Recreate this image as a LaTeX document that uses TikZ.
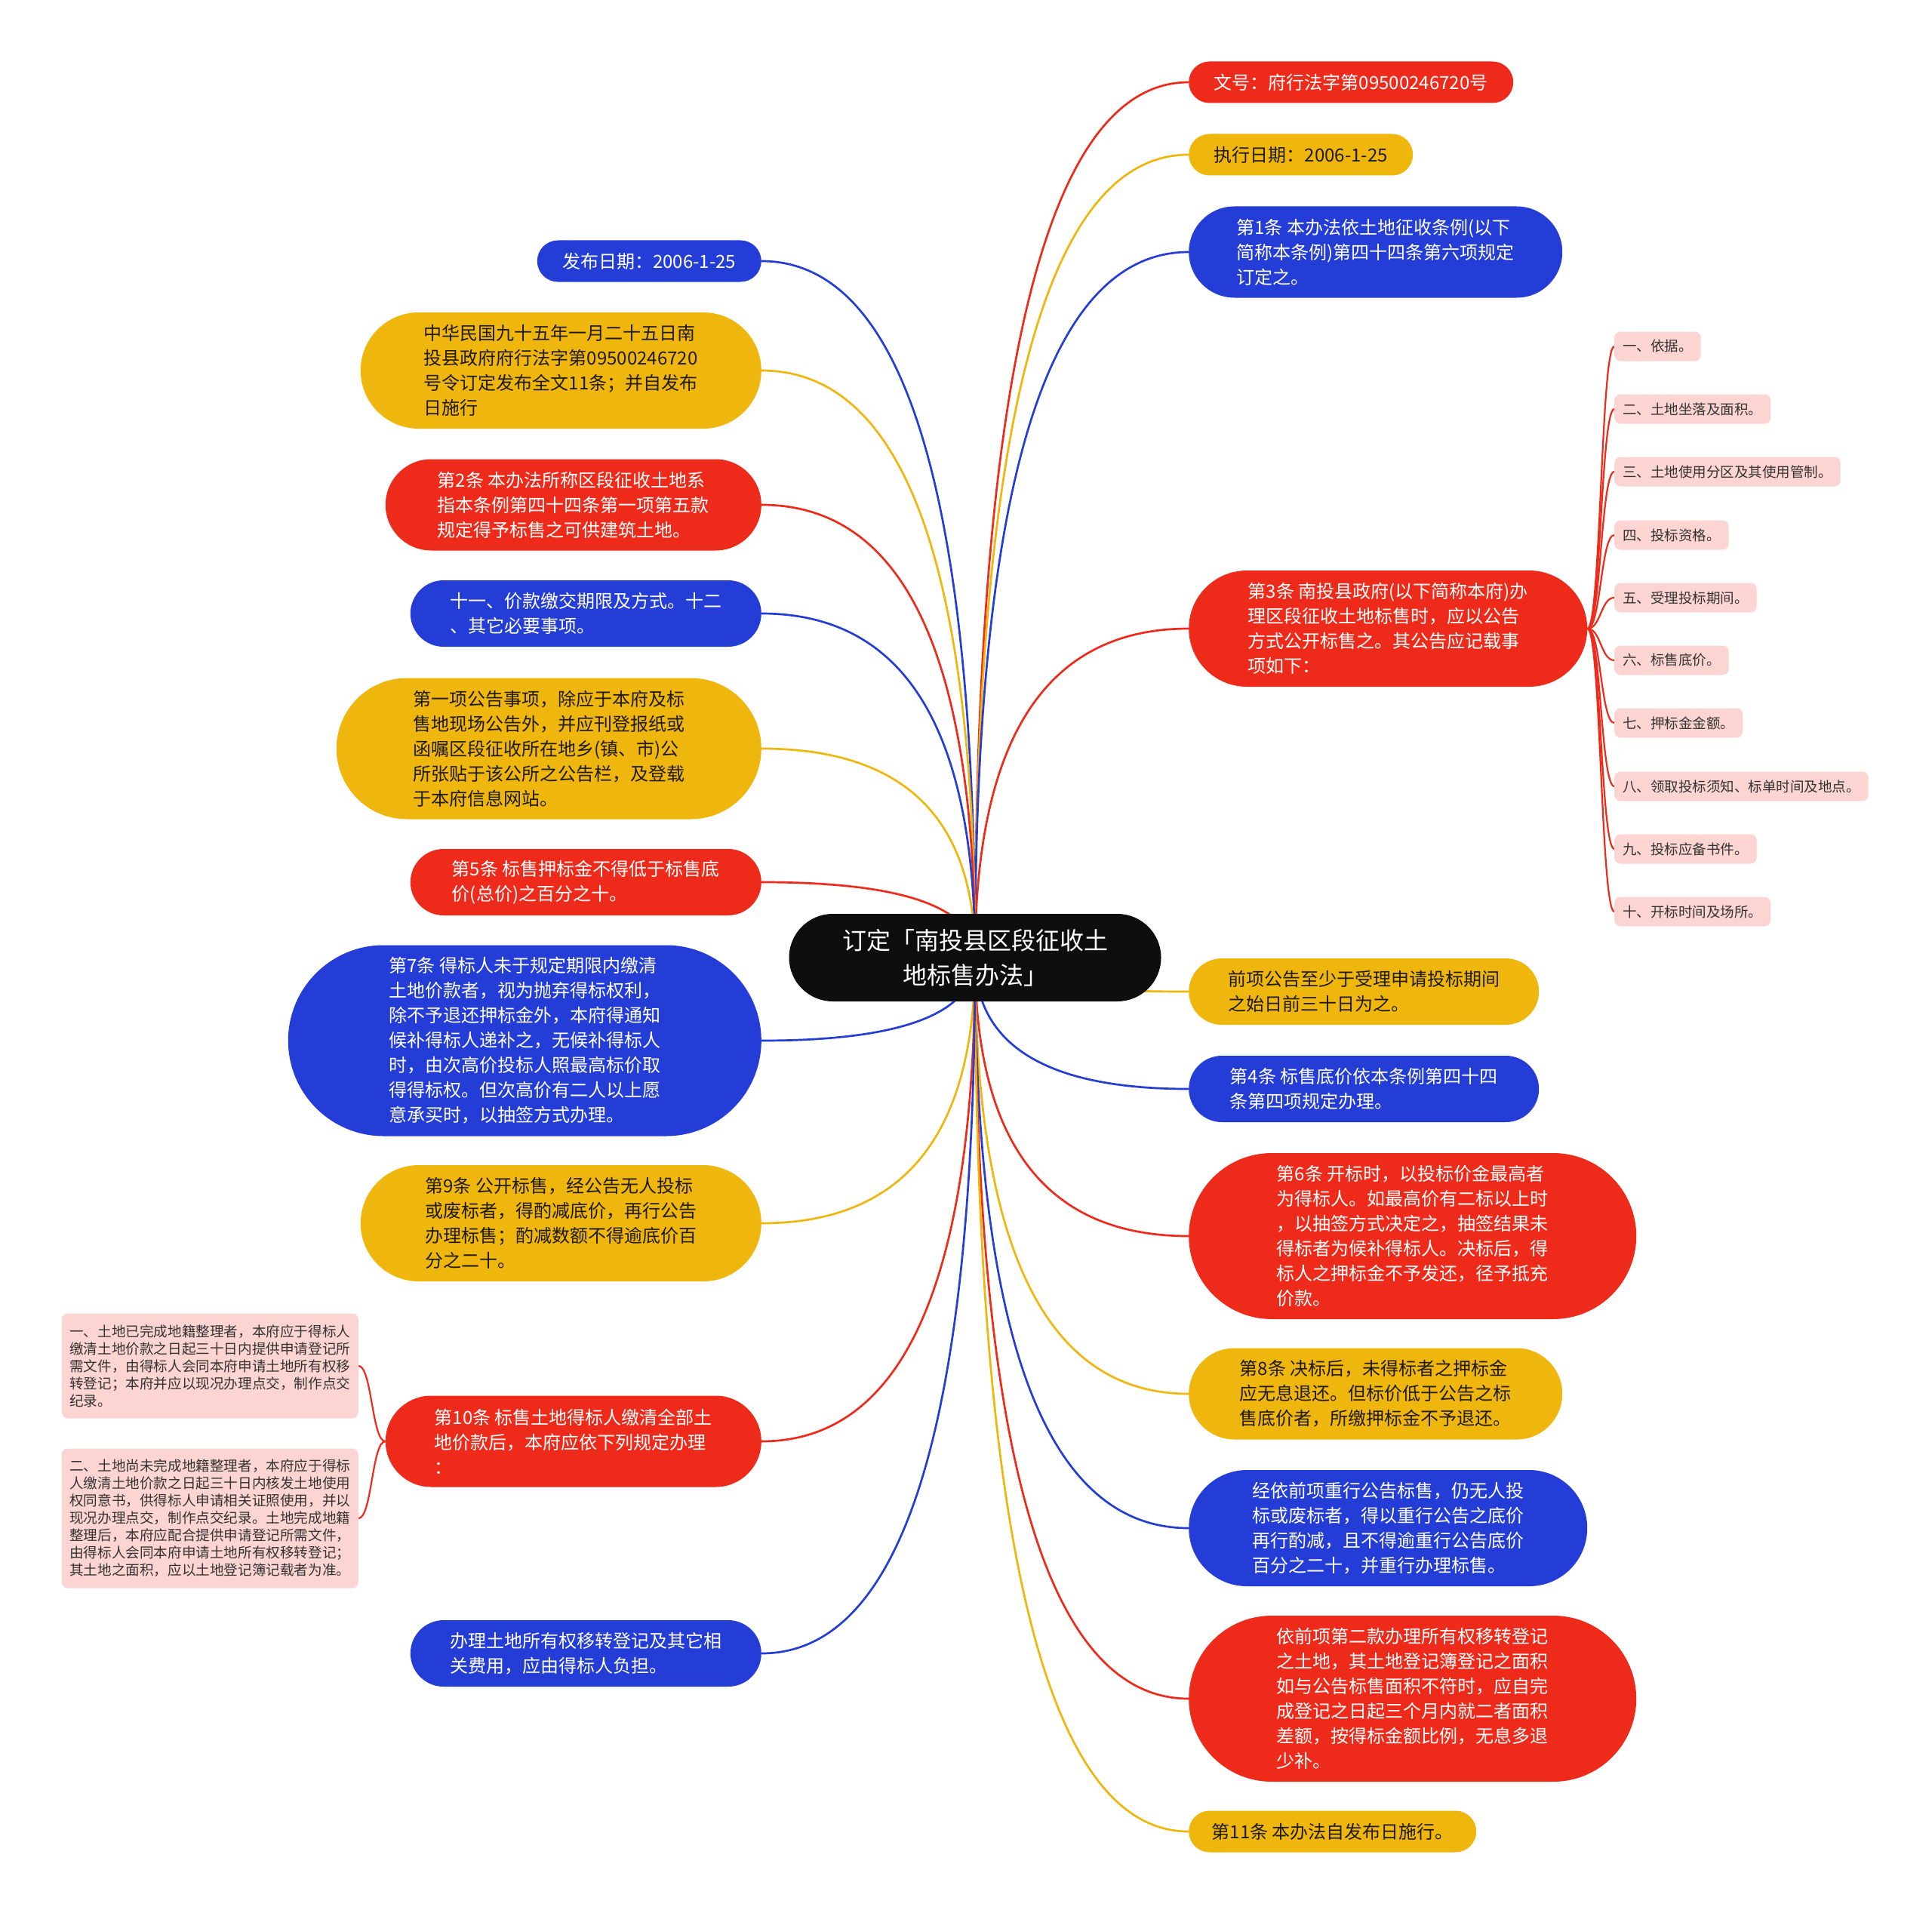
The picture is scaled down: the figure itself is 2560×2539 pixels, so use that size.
\documentclass[tikz,border=0pt]{standalone}
\usepackage{fontspec}
\setmainfont{Noto Sans CJK SC}
\usetikzlibrary{calc}
\definecolor{cred}{HTML}{EE2B1B}
\definecolor{cblue}{HTML}{243DD6}
\definecolor{cyel}{HTML}{EFB70E}
\definecolor{cpink}{HTML}{FCD5D2}
\definecolor{croot}{HTML}{0E0E0E}
\definecolor{cdark}{HTML}{1F1A0A}
\definecolor{cgray}{HTML}{333333}
\pgfdeclarelayer{back}\pgfdeclarelayer{bg}\pgfsetlayers{back,bg,main}
\tikzset{
  x=1pt,y=-1pt,
  box/.style={inner sep=0pt, align=left, font=\fontsize{24}{33}\selectfont},
  pill/.style 2 args={minimum width=#1, minimum height=#2, rounded corners=#2/2},
  rbox/.style={box, fill=cred, text=white},
  bbox/.style={box, fill=cblue, text=white},
  ybox/.style={box, fill=cyel, text=cdark},
  sitem/.style={inner xsep=11pt, inner ysep=0pt, minimum height=39, rounded corners=8, fill=cpink, text=cgray, font=\fontsize{18.5}{24}\selectfont, anchor=west},
  litem/.style={inner sep=0pt, minimum width=393, rounded corners=8, fill=cpink, text=cgray, align=left, font=\fontsize{18.6}{23}\selectfont, anchor=east},
  edge/.style={line width=2.7pt},
  subedge/.style={line width=2.2pt, draw=cred},
}
\newcommand\mmedge[2]{\draw[edge,draw=#1] (root.center) .. controls ($(root.center)!0.667!(root.center |- #2)$) and ($(#2)!0.667!(root.center |- #2)$) .. (#2);}
\newcommand\mmsub[2]{\draw[subedge] (#1) .. controls ($(#1)!0.5!(#1 -| #2)$) and ($(#2)!0.5!(#2 -| #1)$) .. (#2);}
\begin{document}
\begin{tikzpicture}
\useasboundingbox (0,0) rectangle (2560,2539);
\begin{pgfonlayer}{back}
\fill[white] (0,0) rectangle (2560,2539);
\end{pgfonlayer}

% root
\node[fill=croot, text=white, align=center, inner sep=0pt, font=\fontsize{32}{46}\selectfont, pill={493}{116}] (root) at (1292,1269) {订定「南投县区段征收土\\地标售办法」};

% right side
\node[rbox, anchor=west, pill={430}{55}] (r1) at (1575,109) {文号：府行法字第09500246720号};
\node[ybox, anchor=west, pill={297}{55}] (r2) at (1575,205) {执行日期：2006-1-25};
\node[bbox, anchor=west, pill={495}{121}] (r3) at (1575,334) {第1条 本办法依土地征收条例(以下\\简称本条例)第四十四条第六项规定\\订定之。};
\node[rbox, anchor=west, pill={528}{154}] (r4) at (1575,833) {第3条 南投县政府(以下简称本府)办\\理区段征收土地标售时，应以公告\\方式公开标售之。其公告应记载事\\项如下：};
\node[ybox, anchor=west, pill={464}{88}] (r5) at (1575,1314) {前项公告至少于受理申请投标期间\\之始日前三十日为之。};
\node[bbox, anchor=west, pill={464}{88}] (r6) at (1575,1443) {第4条 标售底价依本条例第四十四\\条第四项规定办理。};
\node[rbox, anchor=west, pill={593}{220}] (r7) at (1575,1638) {第6条 开标时，以投标价金最高者\\为得标人。如最高价有二标以上时\\，以抽签方式决定之，抽签结果未\\得标者为候补得标人。决标后，得\\标人之押标金不予发还，径予抵充\\价款。};
\node[ybox, anchor=west, pill={495}{121}] (r8) at (1575,1847) {第8条 决标后，未得标者之押标金\\应无息退还。但标价低于公告之标\\售底价者，所缴押标金不予退还。};
\node[bbox, anchor=west, pill={528}{154}] (r9) at (1575,2025) {经依前项重行公告标售，仍无人投\\标或废标者，得以重行公告之底价\\再行酌减，且不得逾重行公告底价\\百分之二十，并重行办理标售。};
\node[rbox, anchor=west, pill={593}{220}] (r10) at (1575,2251) {依前项第二款办理所有权移转登记\\之土地，其土地登记簿登记之面积\\如与公告标售面积不符时，应自完\\成登记之日起三个月内就二者面积\\差额，按得标金额比例，无息多退\\少补。};
\node[ybox, anchor=west, pill={381}{55}] (r11) at (1575,2427) {第11条 本办法自发布日施行。};

% left side
\node[bbox, anchor=east, pill={297}{55}] (l1) at (1009,346) {发布日期：2006-1-25};
\node[ybox, anchor=east, pill={531}{154}] (l2) at (1009,491) {中华民国九十五年一月二十五日南\\投县政府府行法字第09500246720\\号令订定发布全文11条；并自发布\\日施行};
\node[rbox, anchor=east, pill={498}{121}] (l3) at (1009,669) {第2条 本办法所称区段征收土地系\\指本条例第四十四条第一项第五款\\规定得予标售之可供建筑土地。};
\node[bbox, anchor=east, pill={465}{88}] (l4) at (1009,813) {十一、价款缴交期限及方式。十二\\、其它必要事项。};
\node[ybox, anchor=east, pill={563}{187}] (l5) at (1009,992) {第一项公告事项，除应于本府及标\\售地现场公告外，并应刊登报纸或\\函嘱区段征收所在地乡(镇、市)公\\所张贴于该公所之公告栏，及登载\\于本府信息网站。};
\node[rbox, anchor=east, pill={465}{88}] (l6) at (1009,1169) {第5条 标售押标金不得低于标售底\\价(总价)之百分之十。};
\node[bbox, anchor=east, pill={627}{253}] (l7) at (1009,1379) {第7条 得标人未于规定期限内缴清\\土地价款者，视为抛弃得标权利，\\除不予退还押标金外，本府得通知\\候补得标人递补之，无候补得标人\\时，由次高价投标人照最高标价取\\得得标权。但次高价有二人以上愿\\意承买时，以抽签方式办理。};
\node[ybox, anchor=east, pill={531}{154}] (l8) at (1009,1621) {第9条 公开标售，经公告无人投标\\或废标者，得酌减底价，再行公告\\办理标售；酌减数额不得逾底价百\\分之二十。};
\node[rbox, anchor=east, pill={498}{121}] (l9) at (1009,1910) {第10条 标售土地得标人缴清全部土\\地价款后，本府应依下列规定办理\\：};
\node[bbox, anchor=east, pill={465}{88}] (l10) at (1009,2191) {办理土地所有权移转登记及其它相\\关费用，应由得标人负担。};

% sub items of r4
\node[sitem] (s1) at (2139,459) {一、依据。};
\node[sitem] (s2) at (2139,542) {二、土地坐落及面积。};
\node[sitem] (s3) at (2139,625) {三、土地使用分区及其使用管制。};
\node[sitem] (s4) at (2139,709) {四、投标资格。};
\node[sitem] (s5) at (2139,792) {五、受理投标期间。};
\node[sitem] (s6) at (2139,875) {六、标售底价。};
\node[sitem] (s7) at (2139,958) {七、押标金金额。};
\node[sitem] (s8) at (2139,1042) {八、领取投标须知、标单时间及地点。};
\node[sitem] (s9) at (2139,1125) {九、投标应备书件。};
\node[sitem] (s10) at (2139,1208) {十、开标时间及场所。};

% sub items of l9
\node[litem, minimum height=139] (t1) at (475,1810) {一、土地已完成地籍整理者，本府应于得标人\\缴清土地价款之日起三十日内提供申请登记所\\需文件，由得标人会同本府申请土地所有权移\\转登记；本府并应以现况办理点交，制作点交\\纪录。};
\node[litem, minimum height=185] (t2) at (475,2012) {二、土地尚未完成地籍整理者，本府应于得标\\人缴清土地价款之日起三十日内核发土地使用\\权同意书，供得标人申请相关证照使用，并以\\现况办理点交，制作点交纪录。土地完成地籍\\整理后，本府应配合提供申请登记所需文件，\\由得标人会同本府申请土地所有权移转登记；\\其土地之面积，应以土地登记簿记载者为准。};

\begin{pgfonlayer}{bg}
\mmedge{cred}{r1.west}
\mmedge{cyel}{r2.west}
\mmedge{cblue}{r3.west}
\mmedge{cred}{r4.west}
\mmedge{cyel}{r5.west}
\mmedge{cblue}{r6.west}
\mmedge{cred}{r7.west}
\mmedge{cyel}{r8.west}
\mmedge{cblue}{r9.west}
\mmedge{cred}{r10.west}
\mmedge{cyel}{r11.west}
\mmedge{cblue}{l1.east}
\mmedge{cyel}{l2.east}
\mmedge{cred}{l3.east}
\mmedge{cblue}{l4.east}
\mmedge{cyel}{l5.east}
\mmedge{cred}{l6.east}
\mmedge{cblue}{l7.east}
\mmedge{cyel}{l8.east}
\mmedge{cred}{l9.east}
\mmedge{cblue}{l10.east}
\foreach \s in {s1,s2,s3,s4,s5,s6,s7,s8,s9,s10} {\mmsub{r4.east}{\s.west}}
\mmsub{l9.west}{t1.east}
\mmsub{l9.west}{t2.east}
\end{pgfonlayer}
\end{tikzpicture}
\end{document}
